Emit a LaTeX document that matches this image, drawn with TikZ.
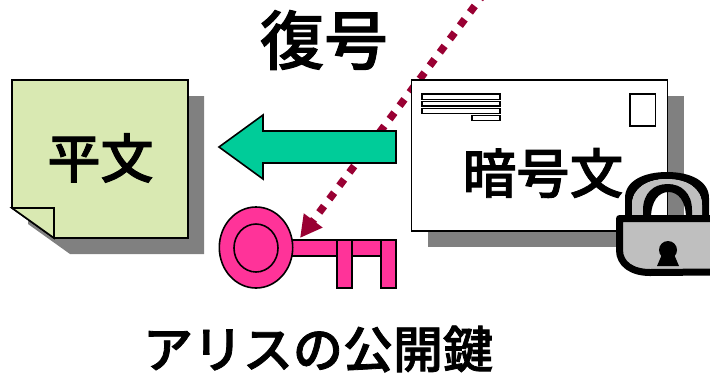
\documentclass[tikz,border=0pt]{standalone}
\usepackage{fontspec}
\usetikzlibrary{arrows.meta}
\newfontfamily\jpfont[FakeBold=1.6]{Noto Sans CJK JP Medium}
\definecolor{papergreen}{HTML}{D9E9B2}
\definecolor{arrowgreen}{HTML}{00CC99}
\definecolor{keypink}{HTML}{FF3399}
\definecolor{dotred}{HTML}{990033}
\definecolor{shadowgray}{HTML}{808080}
\definecolor{lockgray}{HTML}{BFBFBF}
\newcommand{\lockarch}[4]{% left, right, top, bottom
  (#1,#4) -- (#1,#3+26) .. controls (#1,#3+9) and ({#1+(#2-#1)*0.22},#3) .. ({(#1+#2)/2},#3)
  .. controls ({#2-(#2-#1)*0.22},#3) and (#2,#3+9) .. (#2,#3+26) -- (#2,#4) -- cycle}
\tikzset{
  x=1pt,y=-1pt,
  outline/.style={draw=black,line width=1.6pt,line join=miter},
  shadowfill/.style={fill=shadowgray,draw=none},
  jplabel/.style={text=black,inner sep=0pt,anchor=center},
  addrline/.style={draw=black,line width=1.3pt,fill=white},
  keypart/.style={outline,fill=keypink},
  secret/.style={draw=dotred,line width=7.5pt,dash pattern=on 8pt off 8.7pt,dash phase=3pt,
    -{Triangle[length=22pt,width=22pt,fill=dotred]}},
}
\begin{document}
\begin{tikzpicture}
\useasboundingbox (0,0) rectangle (710,373);
\clip (0,0) rectangle (710,373);
% connector endpoints
\coordinate (dotstart) at (483,-5);
\coordinate (keytip) at (300,238);
\draw[secret] (dotstart) -- (keytip);
% plaintext note
\fill[shadowfill] (28,96) -- (204,96) -- (204,254) -- (70,254) -- (28,224) -- cycle;
\draw[outline,fill=papergreen] (12,80) -- (188,80) -- (188,238) -- (54,238) -- (12,208) -- cycle;
\draw[outline,fill=papergreen] (12,208) -- (54,208) -- (54,238) -- cycle;
\node[jplabel,font=\jpfont\fontsize{53}{53}\selectfont] (plain) at (100.5,158) {平文};
% envelope
\fill[shadowfill] (428,96) rectangle (684,247);
\node[outline,fill=white,minimum width=256pt,minimum height=151pt,inner sep=0pt] (envelope) at (539.5,155.5) {};
\draw[addrline] (422,94) rectangle (500,99.3);
\draw[addrline] (422,101.3) rectangle (500,106);
\draw[addrline] (422,108.3) rectangle (500,113.7);
\draw[addrline] (472,115.7) rectangle (500,120.7);
\draw[addrline] (630,94) rectangle (655.5,126);
\node[jplabel,font=\jpfont\fontsize{53.5}{53.5}\selectfont] (cipher) at (543,173) {暗号文};
% green arrow
\draw[outline,fill=arrowgreen] (396,131) -- (263,131) -- (263,115) -- (219,147) -- (263,179) -- (263,163) -- (396,163) -- cycle;
% key
\draw[keypart] (290,240) rectangle (396,256);
\draw[keypart] (337,240) rectangle (352,288);
\draw[keypart] (381,240) rectangle (396,288);
\draw[keypart] (256,247.5) ellipse (36.7pt and 40.5pt);
\draw[keypart] (256,248) ellipse (22pt and 24pt);
% padlock
\fill[black,even odd rule] \lockarch{625}{709}{172}{216} \lockarch{632}{702}{179}{216};
\fill[lockgray,even odd rule] \lockarch{632}{702}{179}{216} \lockarch{643}{692}{184}{216};
\fill[black,even odd rule] \lockarch{643}{692}{184}{216} \lockarch{651}{686}{192}{216};
\draw[black,line width=7pt,fill=lockgray,line join=round] (619.5,218.5) -- (714,218.5) -- (714,272) -- (650,272.5) .. controls (632,272.5) and (619.5,264) .. (619.5,250) -- cycle;
\fill[black] (668,250) circle (9pt);
\fill[black] (663,252) -- (673,252) -- (679,266) -- (657,266) -- cycle;
% captions
\node[jplabel,font=\jpfont\fontsize{64}{64}\selectfont] (decrypt) at (324,40) {復号};
\node[jplabel,font=\jpfont\fontsize{50}{50}\selectfont] (alicekey) at (318,349) {アリスの公開鍵};
\end{tikzpicture}
\end{document}
